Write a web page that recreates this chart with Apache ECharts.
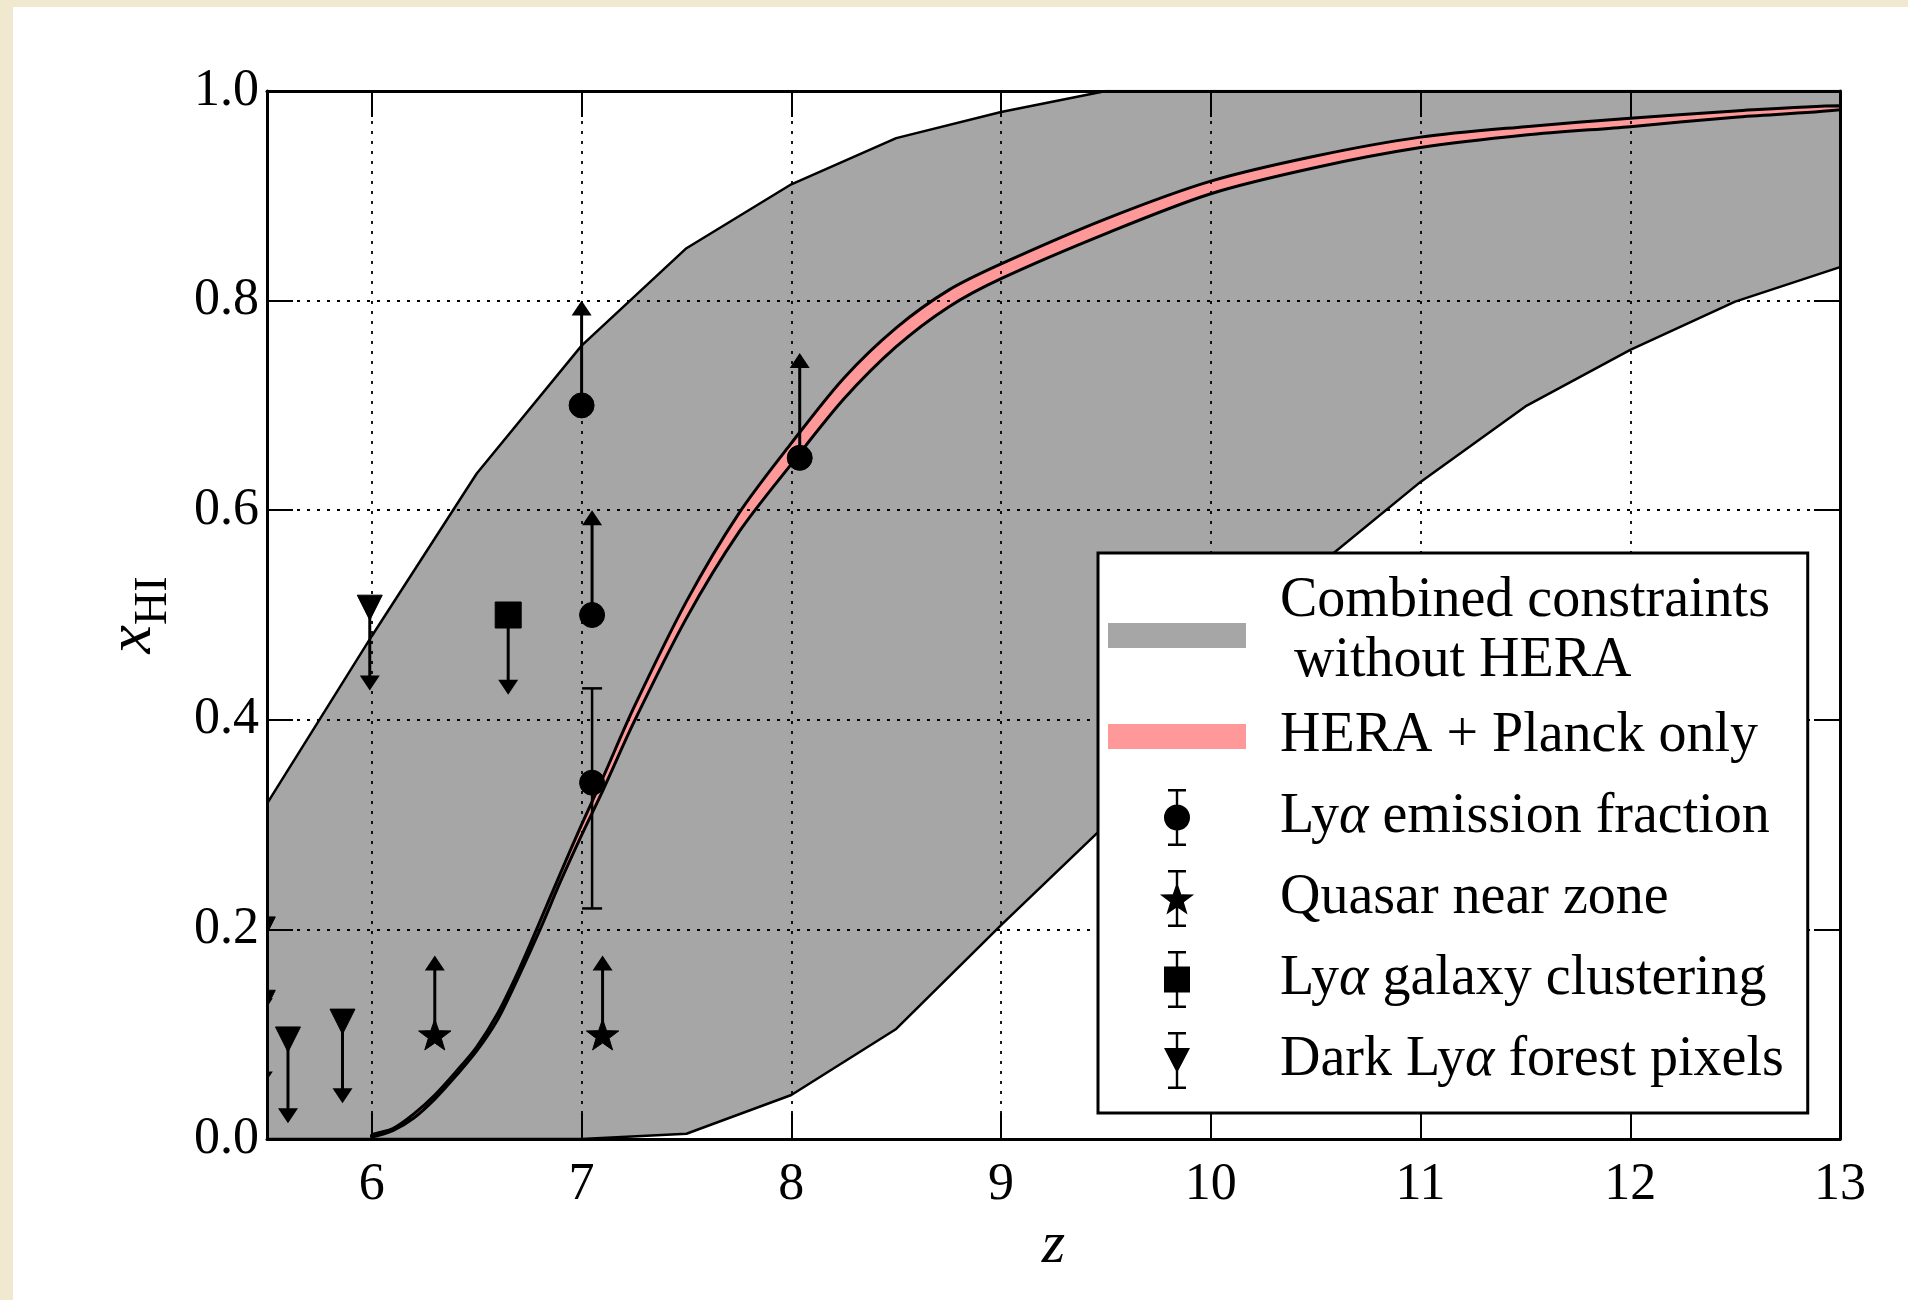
<!DOCTYPE html>
<html>
<head>
<meta charset="utf-8">
<script src="https://cdn.jsdelivr.net/npm/echarts/dist/echarts.min.js"></script>
<style>
html,body{margin:0;padding:0;background:#f0e8cf;}
#chart{width:1908px;height:1300px;}
</style>
</head>
<body>
<div id="chart"></div>
<script>
// ---------------- data ----------------
// Combined constraints without HERA (grey band)
const bandZ    = [5.5, 6.0, 6.5, 7.0, 7.5, 8.0, 8.5, 9.0, 9.5, 10.0, 10.5, 11.0, 11.5, 12.0, 12.5, 13.0];
const bandHigh = [0.32, 0.48, 0.635, 0.757, 0.85, 0.911, 0.955, 0.98, 1.0, 1.0, 1.0, 1.0, 1.0, 1.0, 1.0, 1.0];
const bandLow  = [0.0, 0.0, 0.0, 0.0, 0.005, 0.042, 0.105, 0.204, 0.30, 0.42, 0.545, 0.627, 0.699, 0.753, 0.799, 0.832];

// HERA + Planck only (pink band)
const heraZ    = [6.0, 6.1, 6.2, 6.3, 6.4, 6.5, 6.6, 6.7, 6.8, 6.9, 7.0, 7.1, 7.25, 7.5, 7.75, 8.0, 8.25, 8.5, 8.75, 9.0, 9.5, 10.0, 10.5, 11.0, 11.5, 12.0, 12.5, 13.0];
const heraHigh = [0.004, 0.010, 0.024, 0.042, 0.064, 0.088, 0.120, 0.161, 0.207, 0.254, 0.300, 0.344, 0.412, 0.513, 0.597, 0.664, 0.726, 0.774, 0.810, 0.835, 0.878, 0.914, 0.938, 0.956, 0.966, 0.974, 0.981, 0.986];
const heraLow  = [0.002, 0.008, 0.020, 0.038, 0.060, 0.084, 0.114, 0.155, 0.199, 0.246, 0.290, 0.332, 0.398, 0.497, 0.579, 0.644, 0.706, 0.756, 0.794, 0.821, 0.864, 0.902, 0.927, 0.946, 0.958, 0.966, 0.975, 0.982];

// Lya emission fraction (circles): value, lower end, upper end
const emisZ  = [7.00, 7.05, 7.05, 8.04];
const emisY  = [0.70, 0.50, 0.34, 0.65];
const emisLo = [0.70, 0.50, 0.22, 0.65];
const emisHi = [0.80, 0.60, 0.43, 0.75];

// Quasar near zone (stars)
const qsoZ  = [6.30, 7.10];
const qsoY  = [0.10, 0.10];
const qsoLo = [0.10, 0.10];
const qsoHi = [0.175, 0.175];

// Lya galaxy clustering (square)
const clusZ  = [6.65];
const clusY  = [0.50];
const clusLo = [0.424];
const clusHi = [0.50];

// Dark Lya forest pixels (down triangles)
const darkZ  = [5.48, 5.48, 5.60, 5.86, 5.99];
const darkY  = [0.20, 0.13, 0.095, 0.112, 0.507];
const darkLo = [0.12, 0.05, 0.015, 0.034, 0.428];
const darkHi = [0.20, 0.13, 0.095, 0.112, 0.507];

const yTickLabels = ['0.0', '0.2', '0.4', '0.6', '0.8', '1.0'];

const NAME_BAND = 'Combined constraints without HERA';
const NAME_HERA = 'HERA + Planck only';
const NAME_EMIS = 'Lyα emission fraction';
const NAME_QSO  = 'Quasar near zone';
const NAME_CLUS = 'Lyα galaxy clustering';
const NAME_DARK = 'Dark Lyα forest pixels';

// ---------------- styling ----------------
const FONT = 'Liberation Serif';
const GREY = '#a6a6a6';
const PINK = '#ff9999';

function rows() {
  const arrs = Array.from(arguments);
  return arrs[0].map((_, i) => arrs.map(a => a[i]));
}

function bandRender(zs, lows, highs, fill, stroke, lw, smooth) {
  return function (params, api) {
    if (params.dataIndex !== 0) return null;
    const pts = [];
    for (let i = 0; i < zs.length; i++) pts.push(api.coord([zs[i], lows[i]]));
    for (let i = zs.length - 1; i >= 0; i--) pts.push(api.coord([zs[i], highs[i]]));
    return {
      type: 'polygon',
      shape: { points: pts, smooth: smooth || 0 },
      style: { fill: fill, stroke: stroke || null, lineWidth: lw || 0, lineJoin: 'round' }
    };
  };
}

function starPoints(cx, cy, R, r) {
  const pts = [];
  for (let k = 0; k < 10; k++) {
    const ang = -Math.PI / 2 + k * Math.PI / 5;
    const rad = k % 2 === 0 ? R : r;
    pts.push([cx + rad * Math.cos(ang), cy + rad * Math.sin(ang)]);
  }
  return pts;
}

function markerShape(kind, c) {
  const st = { fill: '#000', stroke: '#000', lineWidth: 1 };
  if (kind === 'circle') return { type: 'circle', shape: { cx: c[0], cy: c[1], r: 12.5 }, style: st };
  if (kind === 'square') return { type: 'rect', shape: { x: c[0] - 13, y: c[1] - 13, width: 26, height: 26 }, style: st };
  if (kind === 'star') return { type: 'polygon', shape: { points: starPoints(c[0], c[1] + 2, 17, 6.8) }, style: st };
  // triangle down
  return { type: 'polygon', shape: { points: [[c[0] - 12.5, c[1] - 12.5], [c[0] + 12.5, c[1] - 12.5], [c[0], c[1] + 12.5]] }, style: st };
}

function markerRender(kind) {
  return function (params, api) {
    const x = api.value(0), y = api.value(1), lo = api.value(2), hi = api.value(3);
    const c = api.coord([x, y]);
    const ch = [];
    const stem = { stroke: '#000', lineWidth: 3 };
    if (lo < y && hi > y) {
      const a = api.coord([x, lo]), b = api.coord([x, hi]);
      ch.push({ type: 'line', shape: { x1: a[0], y1: a[1], x2: b[0], y2: b[1] }, style: { stroke: '#000', lineWidth: 2.5 } });
      ch.push({ type: 'line', shape: { x1: a[0] - 10, y1: a[1], x2: a[0] + 10, y2: a[1] }, style: { stroke: '#000', lineWidth: 2.5 } });
      ch.push({ type: 'line', shape: { x1: b[0] - 10, y1: b[1], x2: b[0] + 10, y2: b[1] }, style: { stroke: '#000', lineWidth: 2.5 } });
    } else if (hi > y) {
      const b = api.coord([x, hi]);
      ch.push({ type: 'line', shape: { x1: c[0], y1: c[1], x2: b[0], y2: b[1] + 12 }, style: stem });
      ch.push({ type: 'polygon', shape: { points: [[b[0], b[1]], [b[0] - 10, b[1] + 15], [b[0] + 10, b[1] + 15]] }, style: { fill: '#000' } });
    } else if (lo < y) {
      const a = api.coord([x, lo]);
      ch.push({ type: 'line', shape: { x1: c[0], y1: c[1], x2: a[0], y2: a[1] - 12 }, style: stem });
      ch.push({ type: 'polygon', shape: { points: [[a[0], a[1]], [a[0] - 10, a[1] - 15], [a[0] + 10, a[1] - 15]] }, style: { fill: '#000' } });
    }
    ch.push(markerShape(kind, c));
    return { type: 'group', children: ch };
  };
}

// legend icons (errorbar glyphs), all 57 px tall so they share one scale
const capsAndStem = (cx) => `M${cx - 9} 0H${cx + 9}V2.5H${cx - 9}Z M${cx - 9} 54.5H${cx + 9}V57H${cx - 9}Z M${cx - 1.2} 0H${cx + 1.2}V57H${cx - 1.2}Z`;
const ICON_CIRCLE = 'path://' + capsAndStem(13) + ' M0 28.5A13 13 0 1 1 26 28.5A13 13 0 1 1 0 28.5Z';
const ICON_SQUARE = 'path://' + capsAndStem(13) + ' M0 15.5H26V41.5H0Z';
const ICON_TRI    = 'path://' + capsAndStem(13) + ' M0 16H26L13 41Z';
const ICON_STAR   = 'path://' + capsAndStem(18) + ' M' + starPoints(18, 30, 18, 7.2).map(p => p[0].toFixed(2) + ' ' + p[1].toFixed(2)).join('L') + 'Z';
const ICON_SWATCH = 'path://M0 0H138V25H0Z';

const legendText = {};
legendText[NAME_BAND] = '{c1|Combined constraints}\n{c2| without HERA}';
legendText[NAME_HERA] = 'HERA + Planck only';
legendText[NAME_EMIS] = 'Ly{a|α} emission fraction';
legendText[NAME_QSO]  = 'Quasar near zone';
legendText[NAME_CLUS] = 'Ly{a|α} galaxy clustering';
legendText[NAME_DARK] = 'Dark Ly{a|α} forest pixels';

const axisLineStyle = { color: '#000', width: 3 };
const tickStyle = { color: '#000', width: 2 };
const gridStyle = { color: '#000', width: 1.8, type: [3, 7] };

const option = {
  animation: false,
  backgroundColor: '#f0e8cf',
  graphic: [{ type: 'rect', left: 13, top: 7, shape: { width: 1908 - 13, height: 1300 - 7 }, style: { fill: '#ffffff' }, z: -10, silent: true }],
  grid: { left: 267, top: 91, width: 1573, height: 1048, containLabel: false },
  xAxis: [
    {
      type: 'value', min: 5.5, max: 13, minInterval: 1, maxInterval: 1, position: 'bottom', z: 3,
      axisLine: { show: true, onZero: false, lineStyle: axisLineStyle },
      axisTick: { show: true, inside: true, length: 26, lineStyle: tickStyle },
      axisLabel: { show: true, margin: 20, color: '#000', fontFamily: FONT, fontSize: 52, showMinLabel: false,
        formatter: v => (Number.isInteger(v) ? String(v) : '') },
      splitLine: { show: true, lineStyle: gridStyle },
      name: 'z', nameLocation: 'middle', nameGap: 70,
      nameTextStyle: { fontFamily: FONT, fontStyle: 'italic', fontSize: 60, color: '#000' }
    },
    {
      type: 'value', min: 5.5, max: 13, minInterval: 1, maxInterval: 1, position: 'top', z: 3,
      axisLine: { show: true, onZero: false, lineStyle: axisLineStyle },
      axisTick: { show: true, inside: true, length: 26, lineStyle: tickStyle },
      axisLabel: { show: false }, splitLine: { show: false }
    }
  ],
  yAxis: [
    {
      type: 'value', min: 0, max: 1, interval: 0.2, position: 'left', z: 3,
      axisLine: { show: true, onZero: false, lineStyle: axisLineStyle },
      axisTick: { show: true, inside: true, length: 26, lineStyle: tickStyle },
      axisLabel: { show: true, margin: 8, color: '#000', fontFamily: FONT, fontSize: 52,
        formatter: v => yTickLabels[Math.round(v * 5)] },
      splitLine: { show: true, lineStyle: gridStyle },
      name: '{x|x}{s|HI}', nameLocation: 'middle', nameGap: 90, nameRotate: 90,
      nameTextStyle: {
        color: '#000', fontFamily: FONT,
        rich: {
          x: { fontFamily: FONT, fontStyle: 'italic', fontSize: 64, color: '#000', verticalAlign: 'bottom', padding: [0, 0, 12, 0] },
          s: { fontFamily: FONT, fontSize: 46, color: '#000', verticalAlign: 'bottom' }
        }
      }
    },
    {
      type: 'value', min: 0, max: 1, interval: 0.2, position: 'right', z: 3,
      axisLine: { show: true, onZero: false, lineStyle: axisLineStyle },
      axisTick: { show: true, inside: true, length: 26, lineStyle: tickStyle },
      axisLabel: { show: false }, splitLine: { show: false }
    }
  ],
  legend: {
    show: true, orient: 'vertical', left: 1098, top: 553, padding: [20, 24, 12, 10],
    itemGap: 0, itemWidth: 138, itemHeight: 57, symbolKeepAspect: true,
    backgroundColor: '#ffffff', borderColor: '#000', borderWidth: 3, borderRadius: 0,
    selectedMode: false, z: 10,
    itemStyle: { borderWidth: 0 },
    data: [
      { name: NAME_BAND, icon: ICON_SWATCH, itemStyle: { color: GREY } },
      { name: NAME_HERA, icon: ICON_SWATCH, itemStyle: { color: PINK } },
      { name: NAME_EMIS, icon: ICON_CIRCLE, itemStyle: { color: '#000' } },
      { name: NAME_QSO,  icon: ICON_STAR,   itemStyle: { color: '#000' } },
      { name: NAME_CLUS, icon: ICON_SQUARE, itemStyle: { color: '#000' } },
      { name: NAME_DARK, icon: ICON_TRI,    itemStyle: { color: '#000' } }
    ],
    formatter: name => legendText[name],
    textStyle: {
      fontFamily: FONT, fontSize: 56, color: '#000', lineHeight: 81, padding: [0, 0, 0, 29],
      rich: {
        c1: { fontFamily: FONT, fontSize: 56, color: '#000', lineHeight: 52 },
        c2: { fontFamily: FONT, fontSize: 56, color: '#000', lineHeight: 69 },
        a:  { fontFamily: FONT, fontSize: 56, color: '#000', fontStyle: 'italic', lineHeight: 81 }
      }
    }
  },
  series: [
    {
      name: NAME_BAND, type: 'custom', z: 1, clip: true, silent: true,
      itemStyle: { color: GREY },
      data: rows(bandZ, bandLow, bandHigh), encode: { x: 0, y: [1, 2] },
      renderItem: bandRender(bandZ, bandLow, bandHigh, GREY)
    },
    {
      name: 'bandLowEdge', type: 'line', z: 2, symbol: 'none', silent: true, clip: true,
      data: rows(bandZ, bandLow), lineStyle: { color: '#000', width: 2.5 }
    },
    {
      name: 'bandHighEdge', type: 'line', z: 2, symbol: 'none', silent: true, clip: true,
      data: rows(bandZ, bandHigh), lineStyle: { color: '#000', width: 2.5 }
    },
    {
      name: NAME_HERA, type: 'custom', z: 2, clip: true, silent: true,
      itemStyle: { color: PINK },
      data: rows(heraZ, heraLow, heraHigh), encode: { x: 0, y: [1, 2] },
      renderItem: bandRender(heraZ, heraLow, heraHigh, PINK, '#000', 3, 0.3)
    },
    {
      name: NAME_EMIS, type: 'custom', z: 5, clip: true, silent: true, itemStyle: { color: '#000' },
      data: rows(emisZ, emisY, emisLo, emisHi), encode: { x: 0, y: 1 },
      renderItem: markerRender('circle')
    },
    {
      name: NAME_QSO, type: 'custom', z: 5, clip: true, silent: true, itemStyle: { color: '#000' },
      data: rows(qsoZ, qsoY, qsoLo, qsoHi), encode: { x: 0, y: 1 },
      renderItem: markerRender('star')
    },
    {
      name: NAME_CLUS, type: 'custom', z: 5, clip: true, silent: true, itemStyle: { color: '#000' },
      data: rows(clusZ, clusY, clusLo, clusHi), encode: { x: 0, y: 1 },
      renderItem: markerRender('square')
    },
    {
      name: NAME_DARK, type: 'custom', z: 5, clip: true, silent: true, itemStyle: { color: '#000' },
      data: rows(darkZ, darkY, darkLo, darkHi), encode: { x: 0, y: 1 },
      renderItem: markerRender('tri')
    }
  ]
};

const chart = echarts.init(document.getElementById('chart'), null, { renderer: 'canvas', width: 1908, height: 1300 });
chart.setOption(option);
</script>
</body>
</html>
